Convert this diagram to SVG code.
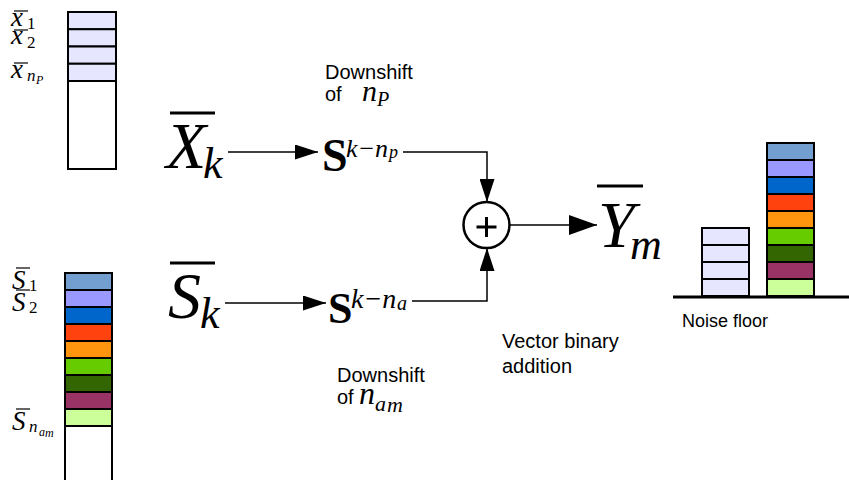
<svg xmlns="http://www.w3.org/2000/svg" width="849" height="480" viewBox="0 0 849 480">
<style>
.cell{stroke:#000;stroke-width:2}
.lav{fill:#e6e6ff}
.c1{fill:#729fcf}.c2{fill:#9999ff}.c3{fill:#0066cc}.c4{fill:#ff420e}.c5{fill:#ff950e}.c6{fill:#66cc00}.c7{fill:#336600}.c8{fill:#993366}.c9{fill:#ccff99}
.m{font-family:"Liberation Serif","Times New Roman",serif;font-style:italic;fill:#000}
.r{font-family:"Liberation Serif","Times New Roman",serif;font-style:normal;fill:#000}
.b{font-family:"Liberation Serif","Times New Roman",serif;font-weight:bold;fill:#000}
.t{font-family:"Liberation Sans",Arial,sans-serif;fill:#000}
.bar{stroke:#000}
.wire{stroke:#000;stroke-width:1.5;fill:none}
</style>
<defs>
<marker id="ah" markerUnits="userSpaceOnUse" viewBox="0 0 23 15" refX="23" refY="7.5" markerWidth="23" markerHeight="15" orient="auto"><path d="M0,0 L23,7.5 L0,15 z" fill="#000"/></marker>
<marker id="ah2" markerUnits="userSpaceOnUse" viewBox="0 0 28 20" refX="28" refY="10" markerWidth="28" markerHeight="20" orient="auto"><path d="M0,0 L28,10 L0,20 z" fill="#000"/></marker>
</defs>

<g id="stack-x">
<rect x="68" y="12" width="48" height="157" fill="#fff" class="cell"/>
<rect x="68" y="12" width="48" height="17.25" class="cell lav"/>
<rect x="68" y="29.25" width="48" height="17.25" class="cell lav"/>
<rect x="68" y="46.5" width="48" height="17.25" class="cell lav"/>
<rect x="68" y="63.75" width="48" height="17.25" class="cell lav"/>
<line x1="14" y1="11" x2="28" y2="11" class="bar" stroke-width="1.2"/>
<text x="11" y="26" class="m" font-size="27">x</text><text x="27" y="29" class="r" font-size="17">1</text>
<line x1="14" y1="30" x2="28" y2="30" class="bar" stroke-width="1.2"/>
<text x="11" y="44" class="m" font-size="27">x</text><text x="27" y="48" class="r" font-size="17">2</text>
<line x1="14" y1="63" x2="28" y2="63" class="bar" stroke-width="1.2"/>
<text x="11" y="78" class="m" font-size="27">x</text><text x="27" y="81" class="m" font-size="17">n</text><text x="36" y="84" class="m" font-size="12">P</text>
</g>

<g id="stack-s">
<rect x="65" y="273" width="47" height="215" fill="#fff" class="cell"/>
<rect x="65" y="273" width="47" height="17" class="cell c1"/>
<rect x="65" y="290" width="47" height="17" class="cell c2"/>
<rect x="65" y="307" width="47" height="17" class="cell c3"/>
<rect x="65" y="324" width="47" height="17" class="cell c4"/>
<rect x="65" y="341" width="47" height="17" class="cell c5"/>
<rect x="65" y="358" width="47" height="17" class="cell c6"/>
<rect x="65" y="375" width="47" height="17" class="cell c7"/>
<rect x="65" y="392" width="47" height="17" class="cell c8"/>
<rect x="65" y="409" width="47" height="17" class="cell c9"/>
<line x1="16" y1="268" x2="30" y2="268" class="bar" stroke-width="1.2"/>
<text x="12" y="289" class="m" font-size="27">S</text><text x="29" y="291" class="r" font-size="17">1</text>
<line x1="16" y1="290" x2="30" y2="290" class="bar" stroke-width="1.2"/>
<text x="12" y="311" class="m" font-size="27">S</text><text x="29" y="313" class="r" font-size="17">2</text>
<line x1="16" y1="409" x2="30" y2="409" class="bar" stroke-width="1.2"/>
<text x="12" y="430" class="m" font-size="27">S</text><text x="29" y="432" class="m" font-size="17">n</text><text x="39" y="436" class="m" font-size="12">a</text><text x="45" y="437" class="m" font-size="12">m</text>
</g>

<g id="node-Xk">
<line x1="170" y1="113" x2="215" y2="113" class="bar" stroke-width="3"/>
<text x="166" y="168" class="m" font-size="66">X</text><text x="203" y="178" class="m" font-size="44">k</text>
</g>
<g id="node-Sk">
<line x1="170" y1="263" x2="215" y2="263" class="bar" stroke-width="3"/>
<text x="168" y="318" class="m" font-size="66">S</text><text x="200" y="328" class="m" font-size="44">k</text>
</g>
<g id="node-Snp">
<text x="322" y="171" class="b" font-size="46">S</text><text x="346" y="157" class="m" font-size="26">k−n</text><text x="389" y="158" class="m" font-size="18">p</text>
</g>
<g id="node-Sna">
<text x="328" y="323" class="b" font-size="44">S</text><text x="351" y="308" class="m" font-size="28">k−n</text><text x="397" y="310" class="m" font-size="20">a</text>
</g>
<g id="node-add">
<circle cx="486.5" cy="225" r="23" fill="#fff" stroke="#000" stroke-width="2.5"/>
<line x1="476.5" y1="227" x2="496.5" y2="227" stroke="#000" stroke-width="3"/>
<line x1="486.5" y1="217" x2="486.5" y2="237" stroke="#000" stroke-width="3"/>
</g>
<g id="node-Ym">
<line x1="597" y1="186" x2="643" y2="186" class="bar" stroke-width="3"/>
<text x="598" y="247" class="m" font-size="66">Y</text><text x="630" y="259" class="m" font-size="44">m</text>
</g>

<g id="connectors">
<line x1="228" y1="152" x2="318" y2="152" class="wire" marker-end="url(#ah)"/>
<line x1="225" y1="303" x2="326" y2="303" class="wire" marker-end="url(#ah)"/>
<polyline points="403,152 487,152 487,202" class="wire" marker-end="url(#ah)"/>
<polyline points="412,301 487,301 487,248" class="wire" marker-end="url(#ah)"/>
<line x1="510" y1="225" x2="597" y2="225" class="wire" marker-end="url(#ah2)"/>
</g>

<g id="label-downshift-p">
<text x="325" y="79" class="t" font-size="20">Downshift</text>
<text x="325" y="101" class="t" font-size="20">of</text>
<text x="362" y="101" class="m" font-size="30">n</text><text x="377" y="106" class="m" font-size="20">P</text>
</g>
<g id="label-downshift-a">
<text x="337" y="382" class="t" font-size="20">Downshift</text>
<text x="337" y="404" class="t" font-size="20">of</text>
<text x="359" y="404" class="m" font-size="32">n</text><text x="375" y="411" class="m" font-size="22">a</text><text x="387" y="412" class="m" font-size="22">m</text>
</g>
<g id="label-vba">
<text x="502" y="348" class="t" font-size="20">Vector binary</text>
<text x="502" y="373" class="t" font-size="20">addition</text>
</g>

<g id="noise-floor">
<rect x="702" y="228" width="47" height="17" class="cell lav"/>
<rect x="702" y="245" width="47" height="17" class="cell lav"/>
<rect x="702" y="262" width="47" height="17" class="cell lav"/>
<rect x="702" y="279" width="47" height="17" class="cell lav"/>
<rect x="767" y="143" width="47" height="17" class="cell c1"/>
<rect x="767" y="160" width="47" height="17" class="cell c2"/>
<rect x="767" y="177" width="47" height="17" class="cell c3"/>
<rect x="767" y="194" width="47" height="17" class="cell c4"/>
<rect x="767" y="211" width="47" height="17" class="cell c5"/>
<rect x="767" y="228" width="47" height="17" class="cell c6"/>
<rect x="767" y="245" width="47" height="17" class="cell c7"/>
<rect x="767" y="262" width="47" height="17" class="cell c8"/>
<rect x="767" y="279" width="47" height="17" class="cell c9"/>
<line x1="673" y1="297" x2="849" y2="297" stroke="#000" stroke-width="3"/>
<text x="682" y="327" class="t" font-size="18">Noise floor</text>
</g>
</svg>
